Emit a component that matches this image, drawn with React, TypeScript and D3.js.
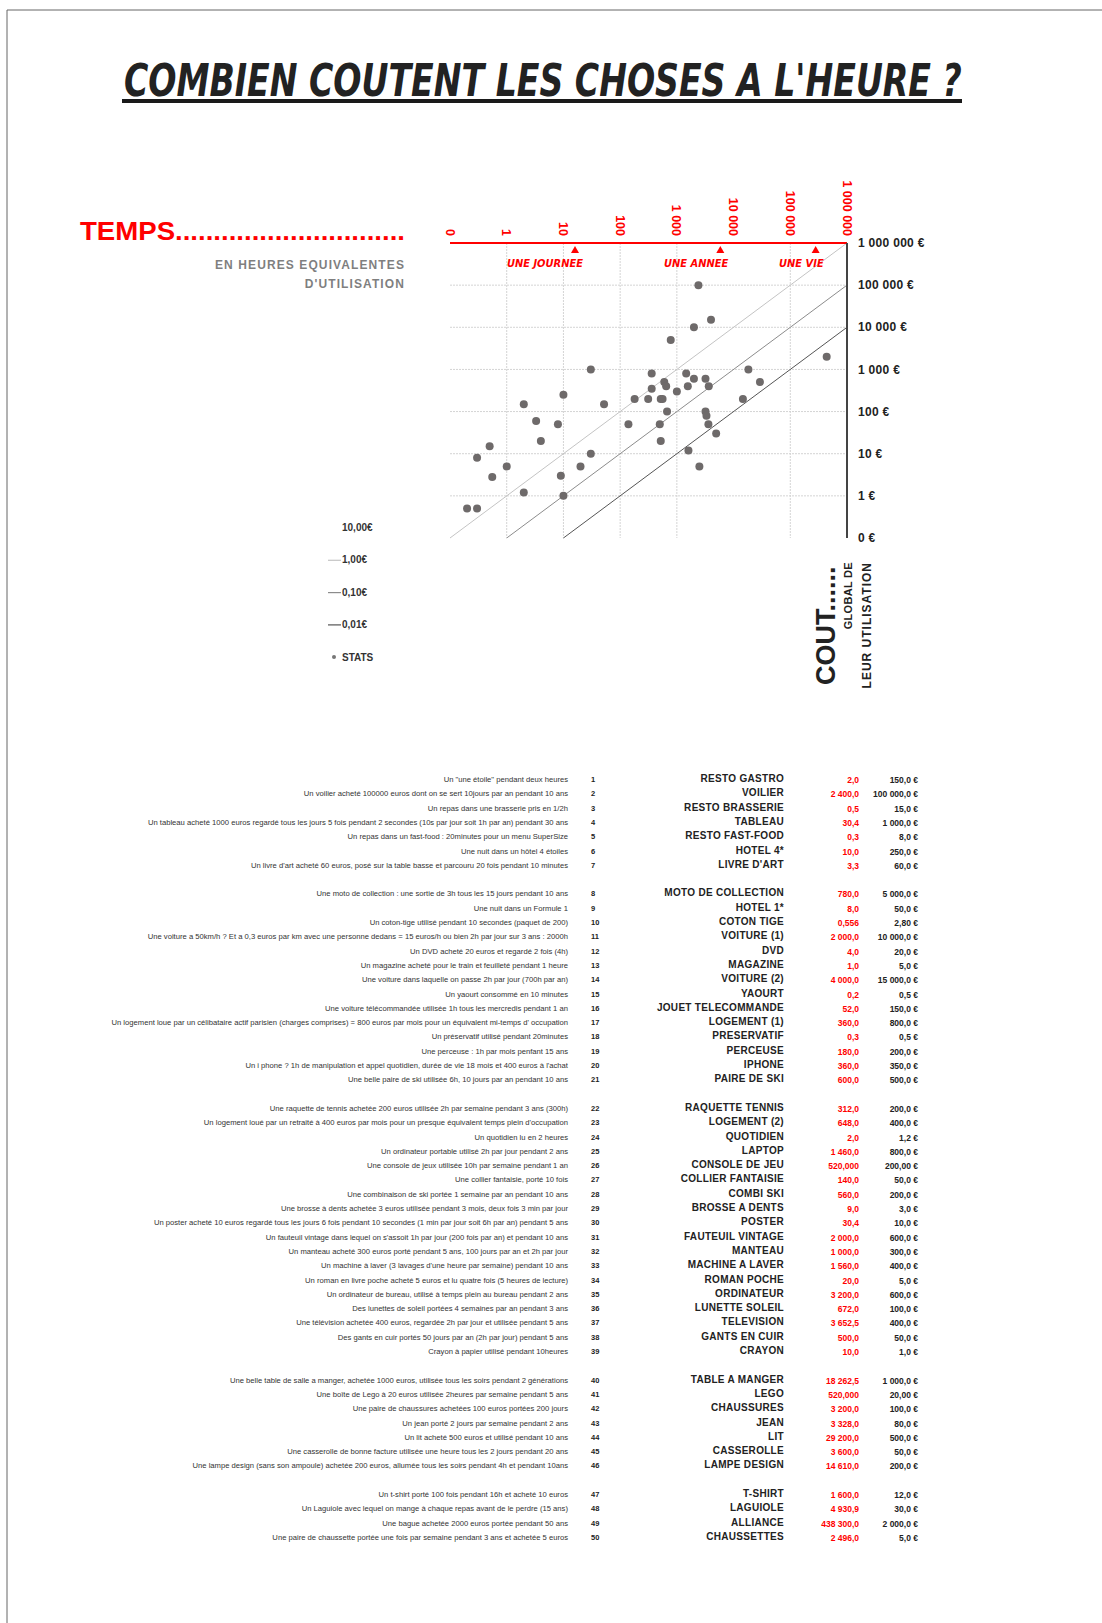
import { useLayoutEffect, useRef, useState } from 'react';
import * as d3 from 'd3';

const W = 1102;
const H = 1623;

// axes (hours & euros, log scale, "0" stands for 0.1)
const TICKS = [0.1, 1, 10, 100, 1000, 10000, 100000, 1000000];
const HOUR_TICK_LABELS = ['0', '1', '10', '100', '1 000', '10 000', '100 000', '1 000 000'];
const COST_TICK_LABELS = ['0 €', '1 €', '10 €', '100 €', '1 000 €', '10 000 €', '100 000 €', '1 000 000 €'];
const V_GRID = [1, 10, 100, 1000, 100000];
const H_GRID = [1, 10, 100, 1000, 10000, 100000];

const MILESTONES = ['UNE JOURNEE', 'UNE ANNEE', 'UNE VIE'];
const MILESTONE_HOURS = [16, 5840, 280000];

// cost per hour reference lines
const RATES = [1, 0.1, 0.01];
const RATE_COLORS = ['#c4c4c4', '#8c8c8c', '#555555'];
const LEGEND_LABELS = ['10,00€', '1,00€', '0,10€', '0,01€'];

const GROUP_SIZES = [7, 14, 18, 7, 4];

const DESCRIPTIONS = [
  'Un "une étoile" pendant deux heures',
  'Un voilier acheté 100000 euros dont on se sert 10jours par an pendant 10 ans',
  'Un repas dans une brasserie pris en 1/2h',
  'Un tableau acheté 1000 euros regardé tous les jours 5 fois pendant 2 secondes  (10s par jour soit 1h par an) pendant 30 ans',
  'Un repas dans un fast-food : 20minutes pour un menu SuperSize',
  'Une nuit dans un hôtel 4 étoiles',
  "Un livre d'art acheté 60 euros, posé sur la table basse et parcouru 20 fois pendant 10 minutes",
  'Une moto de collection : une sortie de 3h tous les 15 jours pendant 10 ans',
  'Une nuit dans un Formule 1',
  'Un coton-tige utilisé pendant 10 secondes (paquet de 200)',
  'Une voiture a 50km/h ? Et a 0,3 euros par km avec une personne dedans = 15 euros/h ou bien 2h par jour sur 3 ans :  2000h',
  'Un DVD acheté 20 euros et regardé 2 fois (4h)',
  'Un magazine acheté pour le train et feuilleté pendant 1 heure',
  'Une voiture dans laquelle on passe 2h par jour (700h par an)',
  'Un yaourt consommé en 10 minutes',
  'Une voiture télécommandée utilisée 1h tous les mercredis pendant 1 an',
  "Un logement loue par un célibataire actif parisien (charges comprises) = 800 euros par mois pour un équivalent mi-temps d' occupation",
  'Un préservatif utilisé pendant 20minutes',
  'Une perceuse : 1h par mois penfant 15 ans',
  "Un i phone ? 1h de manipulation et appel quotidien, durée de vie 18 mois et 400 euros à l'achat",
  'Une belle paire de ski utilisée 6h, 10 jours par an pendant 10 ans',
  'Une raquette de tennis achetée 200 euros utilisée 2h par semaine pendant 3 ans (300h)',
  "Un logement loué par un retraité à 400 euros par mois pour un presque équivalent temps plein d'occupation",
  'Un quotidien lu en 2 heures',
  'Un ordinateur portable utilisé 2h par jour pendant 2 ans',
  'Une console de jeux utilisée 10h par semaine pendant 1 an',
  'Une collier fantaisie, porté 10 fois',
  'Une combinaison de ski portée 1 semaine par an pendant 10 ans',
  'Une brosse à dents achetée 3 euros utilisée pendant 3 mois, deux fois 3 min par jour',
  'Un poster acheté 10 euros regardé tous les jours 6 fois pendant 10 secondes  (1 min par jour soit 6h par an) pendant 5 ans',
  "Un fauteuil vintage dans lequel on s'assoit 1h par jour (200 fois par an) et pendant 10 ans",
  'Un manteau acheté 300 euros porté pendant 5 ans, 100 jours par an et 2h par jour',
  "Un machine à laver (3 lavages d'une heure par semaine) pendant 10 ans",
  'Un roman en livre poche acheté 5 euros et lu quatre fois (5 heures de lecture)',
  'Un ordinateur de bureau, utilisé à temps plein au bureau pendant 2 ans',
  'Des lunettes de soleil portées 4 semaines par an pendant 3 ans',
  'Une télévision achetée 400 euros, regardée 2h par jour et utilisée pendant 5 ans',
  'Des gants en cuir portés 50 jours par an (2h par jour) pendant 5 ans',
  'Crayon à papier utilisé pendant 10heures',
  'Une belle table de salle a manger, achetée 1000 euros, utilisée tous les soirs pendant 2 générations',
  'Une boîte de Lego à 20 euros utilisée 2heures par semaine pendant 5 ans',
  'Une paire de chaussures achetées 100 euros portées 200 jours',
  'Un jean porté 2 jours par semaine pendant 2 ans',
  'Un lit acheté 500 euros et utilisé pendant 10 ans',
  'Une casserolle de bonne facture utilisée une heure tous les 2 jours pendant 20 ans',
  'Une lampe design (sans son ampoule) achetée 200 euros, allumée tous les soirs pendant 4h et pendant 10ans',
  'Un t-shirt porté 100 fois pendant 16h et acheté 10 euros',
  'Un Laguiole avec lequel on mange à chaque repas avant de le perdre (15 ans)',
  'Une bague achetée 2000 euros portée pendant 50 ans',
  'Une paire de chaussette portée une fois par semaine pendant 3 ans et achetée 5 euros',
];

const NAMES = [
  'RESTO GASTRO', 'VOILIER', 'RESTO BRASSERIE', 'TABLEAU', 'RESTO FAST-FOOD', 'HOTEL 4*', "LIVRE D'ART",
  'MOTO DE COLLECTION', 'HOTEL 1*', 'COTON TIGE', 'VOITURE (1)', 'DVD', 'MAGAZINE', 'VOITURE (2)', 'YAOURT',
  'JOUET TELECOMMANDE', 'LOGEMENT (1)', 'PRESERVATIF', 'PERCEUSE', 'IPHONE', 'PAIRE DE SKI',
  'RAQUETTE TENNIS', 'LOGEMENT (2)', 'QUOTIDIEN', 'LAPTOP', 'CONSOLE DE JEU', 'COLLIER FANTAISIE', 'COMBI SKI',
  'BROSSE A DENTS', 'POSTER', 'FAUTEUIL VINTAGE', 'MANTEAU', 'MACHINE A LAVER', 'ROMAN POCHE', 'ORDINATEUR',
  'LUNETTE SOLEIL', 'TELEVISION', 'GANTS EN CUIR', 'CRAYON',
  'TABLE A MANGER', 'LEGO', 'CHAUSSURES', 'JEAN', 'LIT', 'CASSEROLLE', 'LAMPE DESIGN',
  'T-SHIRT', 'LAGUIOLE', 'ALLIANCE', 'CHAUSSETTES',
];

const HOURS = [
  '2,0', '2 400,0', '0,5', '30,4', '0,3', '10,0', '3,3',
  '780,0', '8,0', '0,556', '2 000,0', '4,0', '1,0', '4 000,0', '0,2', '52,0', '360,0', '0,3', '180,0', '360,0', '600,0',
  '312,0', '648,0', '2,0', '1 460,0', '520,000', '140,0', '560,0', '9,0', '30,4', '2 000,0', '1 000,0', '1 560,0',
  '20,0', '3 200,0', '672,0', '3 652,5', '500,0', '10,0',
  '18 262,5', '520,000', '3 200,0', '3 328,0', '29 200,0', '3 600,0', '14 610,0',
  '1 600,0', '4 930,9', '438 300,0', '2 496,0',
];

const COSTS = [
  '150,0 €', '100 000,0 €', '15,0 €', '1 000,0 €', '8,0 €', '250,0 €', '60,0 €',
  '5 000,0 €', '50,0 €', '2,80 €', '10 000,0 €', '20,0 €', '5,0 €', '15 000,0 €', '0,5 €', '150,0 €', '800,0 €',
  '0,5 €', '200,0 €', '350,0 €', '500,0 €',
  '200,0 €', '400,0 €', '1,2 €', '800,0 €', '200,00 €', '50,0 €', '200,0 €', '3,0 €', '10,0 €', '600,0 €', '300,0 €',
  '400,0 €', '5,0 €', '600,0 €', '100,0 €', '400,0 €', '50,0 €', '1,0 €',
  '1 000,0 €', '20,00 €', '100,0 €', '80,0 €', '500,0 €', '50,0 €', '200,0 €',
  '12,0 €', '30,0 €', '2 000,0 €', '5,0 €',
];

const toNum = (s: string) => parseFloat(s.replace(/[ €]/g, '').replace(',', '.'));

const SANS = "'Liberation Sans', Arial, sans-serif";
const NARROW = "'Liberation Sans Narrow', 'DejaVu Sans Condensed', sans-serif";
const TITLE_WIDTH = 838;

export default function App() {
  const titleRef = useRef<SVGTextElement>(null);
  const [titleScale, setTitleScale] = useState(1);

  // squeeze the title to the underline width
  useLayoutEffect(() => {
    if (!titleRef.current) return;
    const len = titleRef.current.getComputedTextLength();
    if (len > 0) setTitleScale(TITLE_WIDTH / len);
  }, []);

  const x = d3.scaleLog().domain([0.1, 1e6]).range([450, 847]);
  const y = d3.scaleLog().domain([0.1, 1e6]).range([538, 243]);

  // table row positions (one blank row between groups)
  const rowIdx: number[] = [];
  let k = 0;
  GROUP_SIZES.forEach((n) => {
    for (let i = 0; i < n; i++) rowIdx.push(k++);
    k++;
  });
  const rowY = d3.scaleLinear().domain([0, 53]).range([782, 1540]);

  const points = HOURS.map((h, i) => ({ h: toNum(h), c: toNum(COSTS[i]) }));

  return (
    <svg
      width={W}
      height={H}
      style={{ position: 'absolute', left: 0, top: 0, background: '#fff' }}
      fontFamily={SANS}
    >
      {/* page frame */}
      <line x1={7} y1={10} x2={W} y2={10} stroke="#666" />
      <line x1={7} y1={10} x2={7} y2={H} stroke="#666" />

      {/* title */}
      <text
        ref={titleRef}
        transform={`translate(124,96) scale(${titleScale},1)`}
        fontFamily={NARROW}
        fontSize={44}
        fontWeight="bold"
        fontStyle="italic"
        fill="#222"
      >
        COMBIEN COUTENT LES CHOSES A L'HEURE ?
      </text>
      <rect x={122} y={99} width={840} height={4} fill="#1a1a1a" />

      {/* left axis title */}
      <text x={80} y={240} fontSize={25} fontWeight="bold" fill="#ff0000" textLength={325} lengthAdjust="spacingAndGlyphs">
        TEMPS..............................
      </text>
      <text x={405} y={269} fontSize={12} fontWeight="bold" fill="#7f7f7f" textAnchor="end" letterSpacing={1.1}>
        EN HEURES EQUIVALENTES
      </text>
      <text x={405} y={288} fontSize={12} fontWeight="bold" fill="#7f7f7f" textAnchor="end" letterSpacing={1.1}>
        D'UTILISATION
      </text>

      {/* grid */}
      {H_GRID.map((v) => (
        <line key={'h' + v} x1={x(0.1)} x2={x(1e6)} y1={y(v)} y2={y(v)} stroke="#d4d4d4" strokeDasharray="2,1" />
      ))}
      {V_GRID.map((v) => (
        <line key={'v' + v} x1={x(v)} x2={x(v)} y1={y(1e6)} y2={y(0.1)} stroke="#d4d4d4" strokeDasharray="2,1" />
      ))}

      {/* cost per hour lines */}
      {RATES.map((r, i) => (
        <line
          key={'r' + r}
          x1={x(0.1 / r)}
          y1={y(0.1)}
          x2={x(1e6)}
          y2={y(1e6 * r)}
          stroke={RATE_COLORS[i]}
          strokeWidth={1}
        />
      ))}

      {/* top (hours) axis */}
      <line x1={x(0.1)} x2={x(1e6)} y1={y(1e6)} y2={y(1e6)} stroke="#ff0000" strokeWidth={2} />
      {TICKS.map((t, i) => (
        <text
          key={'ht' + t}
          transform={`translate(${x(t)},236) rotate(90)`}
          textAnchor="end"
          dy="0.35em"
          fontSize={12.5}
          fontWeight="bold"
          fill="#ff0000"
        >
          {HOUR_TICK_LABELS[i]}
        </text>
      ))}
      {MILESTONE_HOURS.map((h, i) => (
        <g key={MILESTONES[i]}>
          <path d={`M${x(h) - 4},253 L${x(h) + 4},253 L${x(h)},246 Z`} fill="#ff0000" />
          <text
            x={x(h) + 8}
            y={267}
            textAnchor="end"
            fontFamily={NARROW}
            fontSize={11}
            fontWeight="bold"
            fontStyle="italic"
            fill="#ff0000"
          >
            {MILESTONES[i]}
          </text>
        </g>
      ))}

      {/* right (cost) axis */}
      <line x1={x(1e6)} x2={x(1e6)} y1={y(1e6)} y2={y(0.1)} stroke="#444" strokeWidth={2} />
      {TICKS.map((t, i) => (
        <text key={'ct' + t} x={858} y={y(t)} dy="0.35em" fontSize={12} fontWeight="bold" fill="#222" letterSpacing={0.3}>
          {COST_TICK_LABELS[i]}
        </text>
      ))}

      {/* points */}
      {points.map((p, i) => (
        <circle key={'p' + i} cx={x(p.h)} cy={y(p.c)} r={4} fill="#6e6a6a" />
      ))}

      {/* legend */}
      {LEGEND_LABELS.map((l, i) => (
        <g key={l}>
          {i > 0 && (
            <line x1={328} x2={341} y1={528 + i * 32.3} y2={528 + i * 32.3} stroke={RATE_COLORS[i - 1]} strokeWidth={1.2} />
          )}
          <text x={342} y={531 + i * 32.3} fontSize={10} fontWeight="bold" fill="#333">
            {l}
          </text>
        </g>
      ))}
      <circle cx={334} cy={657} r={2} fill="#777" />
      <text x={342} y={661} fontSize={10} fontWeight="bold" fill="#333">
        STATS
      </text>

      {/* cost axis title */}
      <text transform="translate(835,685) rotate(-90)" fontSize={27} fontWeight="bold" fill="#222">
        COUT......
      </text>
      <text transform="translate(852,562) rotate(-90)" textAnchor="end" fontSize={11} fontWeight="bold" fill="#222" letterSpacing={0.3}>
        GLOBAL DE
      </text>
      <text transform="translate(871,562) rotate(-90)" textAnchor="end" fontSize={12} fontWeight="bold" fill="#222" letterSpacing={1}>
        LEUR UTILISATION
      </text>

      {/* table */}
      {NAMES.map((n, i) => {
        const yy = rowY(rowIdx[i]);
        return (
          <g key={'row' + i}>
            <text x={568} y={yy} textAnchor="end" fontSize={7.65} fill="#333">
              {DESCRIPTIONS[i]}
            </text>
            <text x={591} y={yy} fontSize={7.5} fontWeight="bold" fill="#222">
              {i + 1}
            </text>
            <text x={784} y={yy} textAnchor="end" fontSize={10} fontWeight="bold" fill="#222" letterSpacing={0.3}>
              {n}
            </text>
            <text x={859} y={yy + 1} textAnchor="end" fontSize={8.5} fontWeight="bold" fill="#ff0000">
              {HOURS[i]}
            </text>
            <text x={918} y={yy + 1} textAnchor="end" fontSize={8.5} fontWeight="bold" fill="#222">
              {COSTS[i]}
            </text>
          </g>
        );
      })}
    </svg>
  );
}
